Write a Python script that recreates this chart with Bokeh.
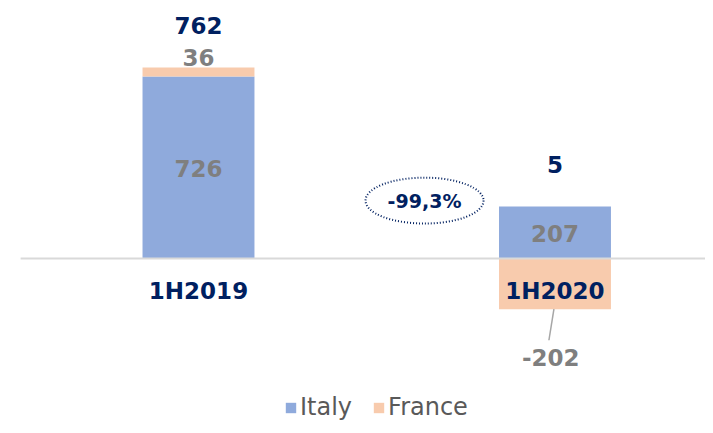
from bokeh.plotting import figure
from bokeh.models import ColumnDataSource, Range1d, Legend, LegendItem
from bokeh.core.properties import value
from bokeh.embed import file_html
from bokeh.resources import INLINE

# ---- data ----
periods = ["1H2019", "1H2020"]
italy = [726, 207]
france = [36, -202]

ITALY_C = "#8FAADC"
FRANCE_C = "#F8CBAD"
NAVY = "#002060"
GRAY = "#7F7F7F"
FONT = "DejaVu Sans"
FS = "23px"

W, H = 705, 425
xs = list(range(len(periods)))
totals = [i + f for i, f in zip(italy, france)]

p = figure(width=W, height=H, output_backend="svg", toolbar_location=None,
           x_range=Range1d(-0.5554, 1.4222), y_range=Range1d(-666, 1029),
           min_border=0, min_border_left=0, min_border_right=0,
           min_border_top=0, min_border_bottom=0)
p.axis.visible = False
p.grid.visible = False
p.outline_line_color = None
p.background_fill_color = None
p.border_fill_color = "white"

# stacked bars (positive stack from 0 up, negatives from 0 down)
it_bottom, it_top, fr_bottom, fr_top = [], [], [], []
for i, f in zip(italy, france):
    it_bottom.append(0)
    it_top.append(i)
    if f >= 0:
        fr_bottom.append(i)
        fr_top.append(i + f)
    else:
        fr_bottom.append(f)
        fr_top.append(0)

src = ColumnDataSource(dict(x=xs, it_b=it_bottom, it_t=it_top,
                            fr_b=fr_bottom, fr_t=fr_top))
bw = 0.314
r_it = p.vbar(x="x", bottom="it_b", top="it_t", width=bw, source=src,
              fill_color=ITALY_C, line_color=None)
r_fr = p.vbar(x="x", bottom="fr_b", top="fr_t", width=bw, source=src,
              fill_color=FRANCE_C, line_color=None)

# zero line
p.segment(x0=[-0.499], y0=[0], x1=[1.4222], y1=[0], line_color="#D9D9D9", line_width=2)

# labels
max_top = [max(a, b) for a, b in zip(it_top, fr_top)]
p.text(x=xs, y=max_top, text=[str(t) for t in totals], y_offset=-42,
       text_align="center", text_baseline="middle", text_color=NAVY,
       text_font=value(FONT), text_font_style="bold", text_font_size=FS)
p.text(x=xs, y=[0, 0], text=periods, y_offset=32,
       text_align="center", text_baseline="middle", text_color=NAVY,
       text_font=value(FONT), text_font_style="bold", text_font_size=FS)
p.text(x=xs, y=[t / 2 for t in it_top], text=[str(v) for v in italy], y_offset=1,
       text_align="center", text_baseline="middle", text_color=GRAY,
       text_font=value(FONT), text_font_style="bold", text_font_size=FS)

# France labels: above small positive, below negative with leader
p.text(x=[xs[0]], y=[fr_top[0]], text=[str(france[0])], y_offset=-10,
       text_align="center", text_baseline="middle", text_color=GRAY,
       text_font=value(FONT), text_font_style="bold", text_font_size=FS)
p.text(x=[xs[1] - 0.012], y=[fr_bottom[1]], text=[str(france[1])], y_offset=48,
       text_align="center", text_baseline="middle", text_color=GRAY,
       text_font=value(FONT), text_font_style="bold", text_font_size=FS)
p.segment(x0=[xs[1] - 0.003], y0=[fr_bottom[1]], x1=[xs[1] - 0.017],
          y1=[fr_bottom[1] - 124], line_color="#A6A6A6", line_width=1.5)

# change bubble
chg = (totals[1] - totals[0]) / totals[0] * 100
chg_txt = f"{chg:.1f}%".replace(".", ",")
ex, ey = 0.634, 231
p.ellipse(x=[ex], y=[ey], width=0.331, height=183, fill_color=None,
          line_color=NAVY, line_width=2, line_dash="1 2")
p.text(x=[ex], y=[ey], text=[chg_txt], text_align="center", text_baseline="middle",
       text_color=NAVY, text_font=value(FONT), text_font_style="bold",
       text_font_size="19px")

legend = Legend(items=[LegendItem(label="Italy", renderers=[r_it]),
                       LegendItem(label="France", renderers=[r_fr])],
                orientation="horizontal", location=(284, 4),
                glyph_width=13, glyph_height=13, label_text_font=FONT,
                label_text_font_size="24px", label_text_color="#595959",
                label_standoff=3, spacing=20, padding=0, margin=0,
                border_line_color=None, background_fill_alpha=0,
                label_height=14)
p.add_layout(legend, "center")

open("out.html", "w").write(file_html(p, INLINE))
